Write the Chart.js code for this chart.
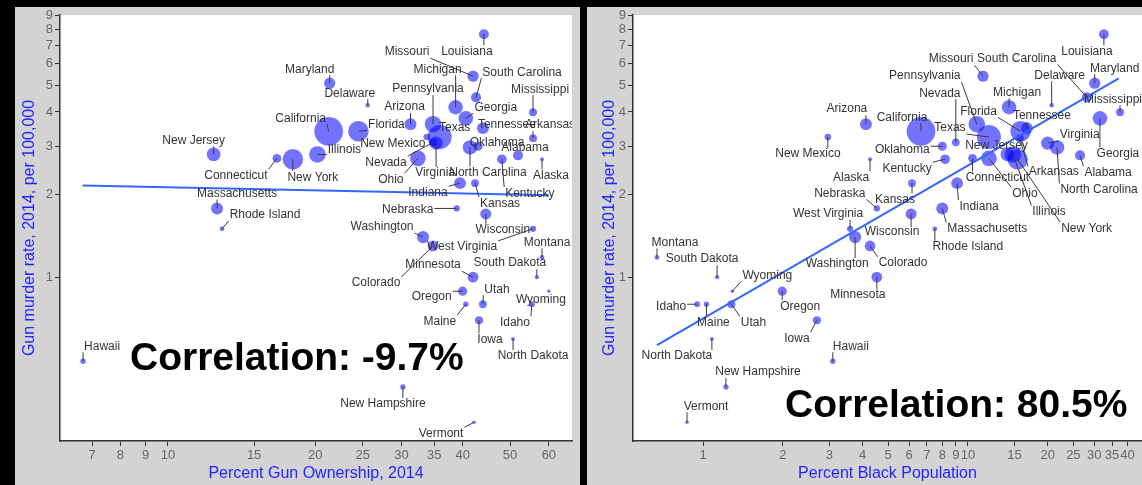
<!DOCTYPE html>
<html><head><meta charset="utf-8">
<script src="https://cdn.jsdelivr.net/npm/chart.js@4.4.0/dist/chart.umd.min.js"></script>
<style>
html,body{margin:0;padding:0;background:#000;width:1142px;height:485px;overflow:hidden;}
.panel{position:absolute;background:#d3d3d3;}
#p1{left:15px;top:7px;width:565px;height:478px;}
#p2{left:587px;top:7px;width:555px;height:478px;}
canvas{display:block;}
</style></head><body>
<div class="panel" id="p1"><canvas id="c1" width="565" height="478"></canvas></div>
<div class="panel" id="p2"><canvas id="c2" width="555" height="478"></canvas></div>
<script>
// ---------------- DATA ----------------
const states = ["Alabama","Alaska","Arizona","Arkansas","California","Colorado","Connecticut","Delaware","Florida","Georgia",
"Hawaii","Idaho","Illinois","Indiana","Iowa","Kansas","Kentucky","Louisiana","Maine","Maryland",
"Massachusetts","Michigan","Minnesota","Mississippi","Missouri","Montana","Nebraska","Nevada","New Hampshire","New Jersey",
"New Mexico","New York","North Carolina","North Dakota","Ohio","Oklahoma","Oregon","Pennsylvania","Rhode Island","South Carolina",
"South Dakota","Tennessee","Texas","Utah","Vermont","Virginia","Washington","West Virginia","Wisconsin","Wyoming"];
const gunOwnership = [51.9,58.1,31.3,55.7,21.3,34.8,16.7,25.6,24.5,40.6,
6.71,55.4,20.2,39.5,43.2,42.4,48.1,44.2,40.6,21.4,
12.6,38.7,42.0,55.7,42.0,58.1,38.9,34.8,30.2,12.4,
33.8,18.0,41.4,50.7,32.4,43.0,40.0,34.8,12.9,42.6,
56.7,44.0,35.9,44.0,42.2,35.3,33.2,55.7,44.6,60.0];
const blackPct = [26.5,4.27,4.12,15.7,6.65,4.27,10.4,20.7,15.8,31.5,
3.09,0.95,14.8,9.1,2.69,6.15,8.2,32.6,1.03,30.1,
8.0,14.3,4.53,37.5,11.4,0.67,4.53,9.0,1.22,14.1,
2.96,15.4,21.7,1.08,12.0,8.0,1.99,10.8,7.5,28.1,
1.13,16.7,12.0,1.28,0.87,20.0,3.75,3.59,6.1,1.29];
const gunMurderRate = [2.78,2.69,3.61,3.21,3.40,1.30,2.71,4.23,3.40,3.79,
0.494,0.797,2.80,2.20,0.697,2.20,2.69,7.67,0.797,5.09,
1.78,4.16,1.00,3.99,5.40,1.18,1.78,3.10,0.398,2.80,
3.24,2.69,2.97,0.595,2.71,3.00,0.889,3.61,1.50,4.52,
1.00,3.49,3.24,0.797,0.296,3.08,1.40,1.50,1.70,0.889];
const populationM = [4.85,0.74,6.73,2.97,38.8,5.36,3.60,0.94,19.9,10.1,
1.42,1.63,12.9,6.6,3.1,2.9,4.4,4.65,1.33,5.98,
6.75,9.9,5.46,2.99,6.06,1.02,1.88,2.84,1.33,8.94,
2.09,19.75,9.94,0.74,11.6,3.88,3.97,12.8,1.06,4.83,
0.85,6.55,27.0,2.94,0.63,8.33,7.06,1.85,5.76,0.58];
const yTicks = [1,2,3,4,5,6,7,8,9];
const xTicksLeft = [7,8,9,10,15,20,25,30,35,40,50,60];
const xTicksRight = [1,2,3,4,5,6,7,8,9,10,15,20,25,30,35,40];
const fitLeftX = [6.7, 60], fitLeftY = [2.16, 1.99];
const fitRightX = [0.67, 37.1], fitRightY = [0.565, 5.3];
const correlationLeft = "Correlation: -9.7%";
const correlationRight = "Correlation: 80.5%";
const yTitle = "Gun murder rate, 2014, per 100,000";
const xTitleLeft = "Percent Gun Ownership, 2014";
const xTitleRight = "Percent Black Population";

// ---------------- LAYOUT (label offsets in px from the point) ----------------
const offLeft = {"Alabama":[7,-8],"Alaska":[9,16],"Arizona":[-6,-17],"Arkansas":[17,-13],"California":[-28,-13],
"Colorado":[-57,37],"Connecticut":[-41,17],"Delaware":[-18,-12],"Florida":[28,-7],"Georgia":[30,-11],
"Hawaii":[19,-15],"Idaho":[-17,18],"Illinois":[27,-5],"Indiana":[-32,9],"Iowa":[11,19],"Kansas":[25,20],
"Kentucky":[28,34],"Louisiana":[-17,17],"Maine":[-26,17],"Maryland":[-20,-14],"Massachusetts":[20,-15],
"Michigan":[-18,-38],"Minnesota":[-40,-12],"Mississippi":[7,-23],"Missouri":[-66,-24],"Montana":[5,-15],
"Nebraska":[-49,1],"Nevada":[-47,20],"New Hampshire":[-20,17],"New Jersey":[-20,-14],"New Mexico":[-34,7],
"New York":[20,18],"North Carolina":[18,25],"North Dakota":[20,17],"Ohio":[-27,21],"Oklahoma":[19,-4],
"Oregon":[-31,5],"Pennsylvania":[-5,-35],"Rhode Island":[43,-14],"South Carolina":[46,-25],"South Dakota":[-27,-14],
"Tennessee":[24,-3],"Texas":[15,-9],"Utah":[14,-15],"Vermont":[-33,11],"Virginia":[-1,30],"Washington":[-41,-10],
"West Virginia":[-71,18],"Wisconsin":[17,16],"Wyoming":[-8,8]};
const offRight = {"Alabama":[28,17],"Alaska":[-19,18],"Arizona":[-19,-15],"Arkansas":[34,34],"California":[-19,-14],
"Colorado":[33,17],"Connecticut":[25,19],"Delaware":[8,-30],"Florida":[-42,-20],"Georgia":[18,35],
"Hawaii":[18,-15],"Idaho":[-26,2],"Illinois":[36,57],"Indiana":[22,23],"Iowa":[-20,18],"Kansas":[-17,16],
"Kentucky":[-38,9],"Louisiana":[-17,17],"Maine":[7,18],"Maryland":[20,-15],"Massachusetts":[45,20],
"Michigan":[8,-15],"Minnesota":[-19,18],"Mississippi":[-7,-13],"Missouri":[-32,-17],"Montana":[18,-15],
"Nebraska":[-37,-15],"Nevada":[-16,-49],"New Hampshire":[32,-15],"New Jersey":[-11,-9],"New Mexico":[-20,17],
"New York":[69,69],"North Carolina":[42,42],"North Dakota":[-35,17],"Ohio":[36,35],"Oklahoma":[-40,3],
"Oregon":[18,15],"Pennsylvania":[-52,-48],"Rhode Island":[33,18],"South Carolina":[-70,-39],"South Dakota":[-15,-18],
"Tennessee":[15,-12],"Texas":[-39,-9],"Utah":[22,18],"Vermont":[19,-16],"Virginia":[32,-8],"Washington":[-18,27],
"West Virginia":[-22,-15],"Wisconsin":[-19,18],"Wyoming":[35,-16]};

const FONT = '"Liberation Sans", Arial, sans-serif';
const BLUE_TXT = '#2424ff';

function bubbleData(xs){ return states.map((s,i)=>({x:xs[i], y:gunMurderRate[i], r:2.3*Math.sqrt(populationM[i])})); }
function lineData(xs,ys){ return xs.map((x,i)=>({x:x,y:ys[i]})); }

function decor(xs, offsets, xTitle, corr, corrX, corrY, yTitleX){
  return {
    id:'decor',
    beforeDraw(chart){
      const {ctx, chartArea:a} = chart;
      ctx.save(); ctx.fillStyle='#fff'; ctx.fillRect(a.left,a.top,a.right-a.left,a.bottom-a.top); ctx.restore();
    },
    afterDraw(chart){
      const ctx=chart.ctx, xS=chart.scales.x, yS=chart.scales.y, a=chart.chartArea;
      ctx.save();
      ctx.beginPath(); ctx.rect(a.left,a.top,a.right-a.left,a.bottom-a.top); ctx.clip();
      ctx.font='12px '+FONT; ctx.textAlign='center'; ctx.textBaseline='middle';
      const items = states.map((s,i)=>{
        const px=xS.getPixelForValue(xs[i]), py=yS.getPixelForValue(gunMurderRate[i]);
        const o=offsets[s]; const lx=px+o[0], ly=py+o[1];
        return {s,px,py,lx,ly,w:ctx.measureText(s).width,h:12};
      });
      ctx.strokeStyle='#3a3a3a'; ctx.lineWidth=1;
      items.forEach(it=>{
        const x0=it.lx-it.w/2-1, x1=it.lx+it.w/2+1, y0=it.ly-it.h/2, y1=it.ly+it.h/2;
        const cx=Math.min(Math.max(it.px,x0),x1), cy=Math.min(Math.max(it.py,y0),y1);
        if(Math.hypot(cx-it.px,cy-it.py)>4){ ctx.beginPath(); ctx.moveTo(it.px,it.py); ctx.lineTo(cx,cy); ctx.stroke(); }
      });
      ctx.fillStyle='#333';
      items.forEach(it=>ctx.fillText(it.s,it.lx,it.ly));
      ctx.restore();
      // correlation text
      ctx.save();
      ctx.font='bold 39px '+FONT; ctx.fillStyle='#000'; ctx.textAlign='left'; ctx.textBaseline='alphabetic';
      ctx.fillText(corr, corrX, corrY);
      // titles
      ctx.font='16px '+FONT; ctx.fillStyle=BLUE_TXT; ctx.textAlign='center'; ctx.textBaseline='middle';
      ctx.fillText(xTitle,(a.left+a.right)/2, 467);
      ctx.translate(yTitleX,(a.top+a.bottom)/2); ctx.rotate(-Math.PI/2);
      ctx.fillText(yTitle,0,0);
      ctx.restore();
    }
  };
}

function zeroPad(s){ s.paddingTop=0; s.paddingBottom=0; s.paddingLeft=0; s.paddingRight=0; }

function makeChart(id, xs, xTicks, xmin, xmax, fitX, fitY, offsets, xTitle, corr, corrX, corrY, yAxisW, padRight, yTitleX){
  const tickSet = vals => (scale)=>{ scale.ticks = vals.map(v=>({value:v})); };
  return new Chart(document.getElementById(id), {
    type:'bubble',
    data:{datasets:[
      {type:'line', data:lineData(fitX,fitY), borderColor:'#3366ff', borderWidth:2, pointRadius:0, showLine:true, fill:false, order:0},
      {type:'bubble', data:bubbleData(xs), backgroundColor:'rgba(0,0,255,0.55)', borderWidth:0, order:1}
    ]},
    options:{
      responsive:false, animation:false, devicePixelRatio:1,
      layout:{autoPadding:false, padding:{top:8,right:padRight,left:0,bottom:0}},
      plugins:{legend:{display:false}, tooltip:{enabled:false}},
      scales:{
        x:{type:'logarithmic', min:xmin, max:xmax,
           afterBuildTicks:tickSet(xTicks), afterFit:(s)=>{s.height=44; zeroPad(s);},
           grid:{drawOnChartArea:false, drawTicks:true, tickLength:5, tickColor:'#333', color:'#333'},
           border:{display:true, color:'#333', width:1.5},
           ticks:{autoSkip:false, maxRotation:0, padding:2, color:'#666', font:{family:FONT,size:13}, callback:(v)=>String(v)}},
        y:{type:'logarithmic', min:0.253, max:9.02,
           afterBuildTicks:tickSet(yTicks), afterFit:(s)=>{s.width=yAxisW; zeroPad(s);},
           grid:{drawOnChartArea:false, drawTicks:true, tickLength:5, tickColor:'#333', color:'#333'},
           border:{display:true, color:'#333', width:1.5},
           ticks:{autoSkip:false, padding:2, color:'#666', font:{family:FONT,size:13}, callback:(v)=>String(v)}}
      }
    },
    plugins:[decor(xs, offsets, xTitle, corr, corrX, corrY, yTitleX)]
  });
}

makeChart('c1', gunOwnership, xTicksLeft, 6.02, 66.9, fitLeftX, fitLeftY, offLeft, xTitleLeft, correlationLeft, 115, 363, 45, 8, 15);
makeChart('c2', blackPct, xTicksRight, 0.544, 45.4, fitRightX, fitRightY, offRight, xTitleRight, correlationRight, 198, 410, 46, 0, 23);
</script>
</body></html>
